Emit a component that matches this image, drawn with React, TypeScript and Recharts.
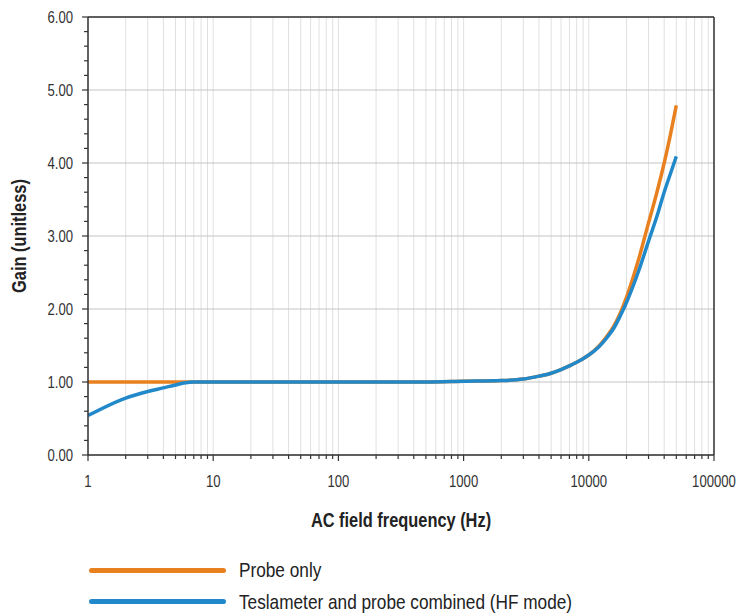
import { LineChart, Line, XAxis, YAxis, CartesianGrid, ReferenceLine } from 'recharts'

const FONT = '"Liberation Sans", Arial, sans-serif'
const NARROW = 0.82
const ORANGE = '#e8801f'
const BLUE = '#2189c9'
const AXIS = '#333333'

// AC field frequency (Hz)
const FREQ = [
  1, 2, 3, 4, 5, 6, 7, 8, 10, 20, 50, 100, 200, 500, 1000, 2000, 3000, 4000, 5000, 6000, 7000, 8000, 9000,
  10000, 12000, 14000, 16000, 18000, 20000, 25000, 30000, 35000, 40000, 45000, 50000,
]
// gain, probe only
const PROBE_ONLY = [
  1.0, 1.0, 1.0, 1.0, 1.0, 1.0, 1.0, 1.0, 1.0, 1.0, 1.0, 1.0, 1.0, 1.0, 1.01, 1.02, 1.04, 1.08, 1.12, 1.17, 1.22, 1.27,
  1.32, 1.37, 1.49, 1.63, 1.78, 1.96, 2.16, 2.68, 3.18, 3.6, 4.0, 4.4, 4.79,
]
// gain, teslameter and probe combined (HF mode)
const HF_COMBINED = [
  0.54, 0.78, 0.87, 0.92, 0.96, 0.99, 1.0, 1.0, 1.0, 1.0, 1.0, 1.0, 1.0, 1.0, 1.01, 1.02, 1.04, 1.08, 1.12, 1.17, 1.22,
  1.27, 1.32, 1.37, 1.48, 1.61, 1.75, 1.92, 2.09, 2.52, 2.93, 3.27, 3.6, 3.86, 4.09,
]

const X_TICKS = [
  1, 2, 3, 4, 5, 6, 7, 8, 9,
  10, 20, 30, 40, 50, 60, 70, 80, 90,
  100, 200, 300, 400, 500, 600, 700, 800, 900,
  1000, 2000, 3000, 4000, 5000, 6000, 7000, 8000, 9000,
  10000, 20000, 30000, 40000, 50000, 60000, 70000, 80000, 90000,
  100000,
]
const X_LABELS = [1, 10, 100, 1000, 10000, 100000]

const Y_TICKS = [
  0, 0.2, 0.4, 0.6, 0.8, 1, 1.2, 1.4, 1.6, 1.8, 2, 2.2, 2.4, 2.6, 2.8, 3, 3.2, 3.4, 3.6, 3.8, 4, 4.2, 4.4, 4.6, 4.8, 5,
  5.2, 5.4, 5.6, 5.8, 6,
]
const Y_LABELS = [0, 1, 2, 3, 4, 5, 6]

const SERIES = [
  { key: 'probe', name: 'Probe only', color: ORANGE },
  { key: 'hf', name: 'Teslameter and probe combined (HF mode)', color: BLUE },
]

const data = FREQ.map((f, i) => ({ f, probe: PROBE_ONLY[i], hf: HF_COMBINED[i] }))

// condensed look: regular face squeezed horizontally
function NarrowText({ x, y, rotate = 0, children, ...rest }: any) {
  return (
    <text
      transform={`translate(${x} ${y}) rotate(${rotate}) scale(${NARROW} 1)`}
      fontFamily={FONT}
      {...rest}
    >
      {children}
    </text>
  )
}

function XTick({ x, y, payload }: any) {
  const major = X_LABELS.includes(payload.value)
  return (
    <g>
      <line x1={x} x2={x} y1={y} y2={y + (major ? 6 : 4)} stroke={AXIS} strokeWidth={1.2} />
      {major && (
        <NarrowText x={x} y={y + 32} textAnchor="middle" fontSize={16} fill="#333">
          {payload.value}
        </NarrowText>
      )}
    </g>
  )
}

function YTick({ x, y, payload }: any) {
  const major = Y_LABELS.includes(payload.value)
  return (
    <g>
      <line x1={x - (major ? 6 : 4)} x2={x} y1={y} y2={y} stroke={AXIS} strokeWidth={1.2} />
      {major && (
        <NarrowText x={x - 15} y={y + 5.5} textAnchor="end" fontSize={16} fill="#333">
          {payload.value.toFixed(2)}
        </NarrowText>
      )}
    </g>
  )
}

export default function App() {
  // absolute box of exactly 729x606 at the body margin, so the page never scrolls
  return (
    <div style={{ position: 'absolute', left: 8, top: 8, width: 729, height: 606, overflow: 'hidden' }}>
      <LineChart
        width={729}
        height={535}
        data={data}
        margin={{ top: 9, right: 23, left: 0, bottom: 0 }}
        style={{ overflow: 'visible' }}
      >
        <CartesianGrid horizontal={false} stroke="#e0e0e0" />
        <CartesianGrid vertical={false} horizontalValues={Y_LABELS} stroke="#c4c4c4" />
        <XAxis
          dataKey="f"
          type="number"
          scale="log"
          domain={[1, 100000]}
          ticks={X_TICKS}
          interval={0}
          tick={<XTick />}
          tickSize={0}
          tickMargin={0}
          tickLine={false}
          height={88}
          axisLine={{ stroke: AXIS, strokeWidth: 1.5 }}
          allowDataOverflow
          label={{
            content: () => (
              <NarrowText x={393} y={519} textAnchor="middle" fontSize={20} fontWeight="bold" fill="#222">
                AC field frequency (Hz)
              </NarrowText>
            ),
          }}
        />
        <YAxis
          type="number"
          domain={[0, 6]}
          ticks={Y_TICKS}
          interval={0}
          tick={<YTick />}
          tickSize={0}
          tickMargin={0}
          tickLine={false}
          width={80}
          axisLine={{ stroke: AXIS, strokeWidth: 1.5 }}
          label={{
            content: () => (
              <NarrowText x={17.5} y={228} rotate={-90} textAnchor="middle" fontSize={20} fontWeight="bold" fill="#222">
                Gain (unitless)
              </NarrowText>
            ),
          }}
        />
        <ReferenceLine y={6} stroke={AXIS} strokeWidth={1.5} />
        <ReferenceLine x={100000} stroke={AXIS} strokeWidth={1.5} />
        {SERIES.map((s) => (
          <Line
            key={s.key}
            type="monotone"
            dataKey={s.key}
            name={s.name}
            stroke={s.color}
            strokeWidth={3.5}
            dot={false}
            isAnimationActive={false}
          />
        ))}
      </LineChart>
      <div style={{ position: 'relative', height: 71, fontFamily: FONT }}>
        {SERIES.map((s, i) => (
          <div key={s.key} style={{ position: 'absolute', left: 0, top: 17 + i * 31.5, height: 20, width: 729 }}>
            <div
              style={{
                position: 'absolute',
                left: 81,
                top: 7.5,
                width: 137,
                height: 5,
                borderRadius: 3,
                background: s.color,
              }}
            />
            <div
              style={{
                position: 'absolute',
                left: 231,
                top: -1,
                fontSize: 21,
                lineHeight: '22px',
                color: '#222',
                whiteSpace: 'nowrap',
                transform: `scaleX(${NARROW})`,
                transformOrigin: 'left center',
              }}
            >
              {s.name}
            </div>
          </div>
        ))}
      </div>
    </div>
  )
}
